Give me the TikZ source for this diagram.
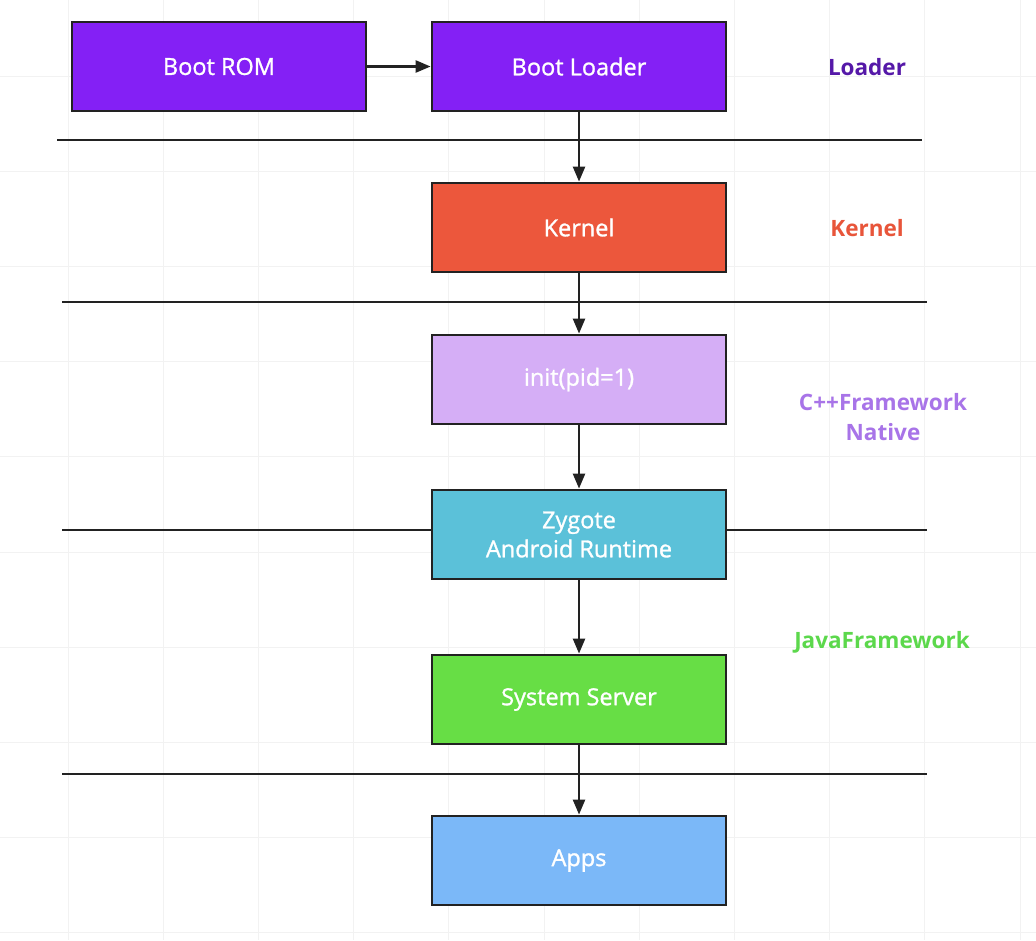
\documentclass[tikz,border=0pt]{standalone}
\usepackage{fontspec}
\setmainfont{Open Sans}
\newfontfamily\boxfont[FakeBold=1.2]{Open Sans}
\usetikzlibrary{arrows.meta}
\definecolor{bootc}{HTML}{8420F5}
\definecolor{kernc}{HTML}{EC573C}
\definecolor{initc}{HTML}{D5AEF6}
\definecolor{zygc}{HTML}{5BC1D9}
\definecolor{sysc}{HTML}{67DE45}
\definecolor{appc}{HTML}{7BB8F8}
\definecolor{lloader}{HTML}{5518A8}
\definecolor{lkernel}{HTML}{E8553A}
\definecolor{lnative}{HTML}{A874E8}
\definecolor{ljava}{HTML}{5CD84C}
\definecolor{edge}{HTML}{222222}
\tikzset{
  stage/.style={draw=edge, line width=2.8pt, minimum width=294pt, minimum height=89pt,
    inner sep=0pt, text=white, font=\boxfont\fontsize{23.5}{29}\selectfont, align=center},
  layer/.style={font=\fontsize{22.5}{30}\selectfont\bfseries, align=center},
  flow/.style={draw=edge, line width=2.4pt, -{Triangle[length=15pt,width=12pt]}},
  divider/.style={draw=edge, line width=2.8pt},
  gridline/.style={draw=black!5, line width=0.8pt}
}
\begin{document}
\begin{tikzpicture}[x=1pt,y=-1pt]
\useasboundingbox (0,0) rectangle (1036,940);
\fill[white] (0,0) rectangle (1036,940);
% background grid
\foreach \i in {0,...,10} {
  \draw[gridline] ({68+95.2*\i},0) -- ({68+95.2*\i},940);
  \draw[gridline] (0,{76+95.2*\i}) -- (1036,{76+95.2*\i});
}
% stage boxes
\node[stage, fill=bootc] (rom) at (219,66.5) {Boot ROM};
\node[stage, fill=bootc] (loader) at (579,66.5) {Boot Loader};
\node[stage, fill=kernc] (kernel) at (579,227.5) {Kernel};
\node[stage, fill=initc] (init) at (579,379.5) {init(pid=1)};
\node[stage, fill=zygc] (zygote) at (579,534.5) {Zygote\\Android Runtime};
\node[stage, fill=sysc] (sys) at (579,699.5) {System Server};
\node[stage, fill=appc] (apps) at (579,860.5) {Apps};
% dividers
\coordinate (d1a) at (57,140); \coordinate (d1b) at (922,140);
\coordinate (d2a) at (62,302); \coordinate (d2b) at (927,302);
\coordinate (d3a) at (62,530); \coordinate (d3b) at (927,530);
\coordinate (d4a) at (62,774); \coordinate (d4b) at (927,774);
\draw[divider] (d1a) -- (d1b);
\draw[divider] (d2a) -- (d2b);
\draw[divider] (d3a) -- (zygote.west |- d3a);
\draw[divider] (zygote.east |- d3b) -- (d3b);
\draw[divider] (d4a) -- (d4b);
% flows
\draw[flow] (rom.east) -- (loader.west);
\draw[flow] (loader.south) -- (kernel.north);
\draw[flow] (kernel.south) -- (init.north);
\draw[flow] (init.south) -- (zygote.north);
\draw[flow] (zygote.south) -- (sys.north);
\draw[flow] (sys.south) -- (apps.north);
% layer labels
\node[layer, text=lloader] (lbl1) at (867,67) {Loader};
\node[layer, text=lkernel] (lbl2) at (867,228) {Kernel};
\node[layer, text=lnative] (lbl3) at (883,417) {C++Framework\\Native};
\node[layer, text=ljava] (lbl4) at (882,642) {JavaFramework};
\end{tikzpicture}
\end{document}
